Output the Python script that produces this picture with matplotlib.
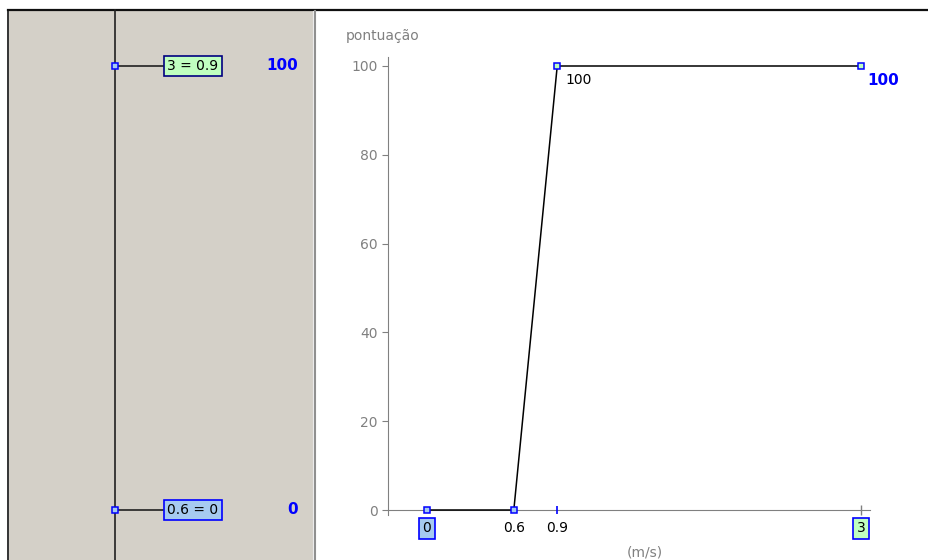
import matplotlib.pyplot as plt
import matplotlib.transforms as mtransforms
from matplotlib.patches import Rectangle

plt.rcParams['font.family'] = ['DejaVu Sans']

# Data
speed = [0, 0.6, 0.9, 3]
score = [0, 0, 100, 100]
point_fill = ['#A6CAF0', '#A6CAF0', '#C0FFC0', '#C0FFC0']
y_ticks = [0, 20, 40, 60, 80, 100]
x_tick_labels = ['0', '0.6', '0.9', '3']
rule_labels = ['0.6 = 0', '3 = 0.9']
rule_scores = [0, 100]

# Colours
PANEL = '#D4D0C8'
AXIS_GRAY = '#808080'
BLUE = '#0000FF'
LIGHT_BLUE = '#A6CAF0'
LIGHT_GREEN = '#C0FFC0'
NAVY = '#000080'

W, H = 929, 560
fig = plt.figure(figsize=(W / 100, H / 100), dpi=100)
fig.patch.set_facecolor('white')

# background axes in pixel units (frame + left panel)
bg = fig.add_axes([0, 0, 1, 1])
bg.set_xlim(0, W)
bg.set_ylim(H, 0)
bg.axis('off')

bg.add_patch(Rectangle((9, 11), 304, H - 11, facecolor=PANEL, edgecolor='none'))
bg.plot([8, W], [10, 10], color='#101010', lw=1.6)
bg.plot([8, 8], [10, H], color='#101010', lw=1.2)
bg.plot([313, 313], [11, H], color='#F0F0F0', lw=0.8)
bg.plot([315.5, 315.5], [11, H], color='#909090', lw=1.5)
bg.plot([115, 115], [10, H], color='#202020', lw=1.2)

# main chart axes
x0, x1 = 388, 870
y_bot, y_top = 515, 57
ax = fig.add_axes([x0 / W, (H - y_bot) / H, (x1 - x0) / W, (y_bot - y_top) / H])
ax.patch.set_alpha(0)
px_per_x = 144.7
px_per_y = 4.44
ax.set_xlim((x0 - 427) / px_per_x, (x1 - 427) / px_per_x)
ax.set_ylim((510 - y_bot) / px_per_y, (510 - y_top) / px_per_y)

for s in ['top', 'right']:
    ax.spines[s].set_visible(False)
ax.spines['left'].set_color(AXIS_GRAY)
ax.spines['bottom'].set_color(AXIS_GRAY)
ax.spines['bottom'].set_position(('data', 0))

ax.set_yticks(y_ticks)
ax.tick_params(axis='y', direction='out', length=4.5, width=0.8, colors=AXIS_GRAY,
               labelsize=10, pad=3)

ax.set_xticks(speed)
ax.set_xticklabels(x_tick_labels)
ax.tick_params(axis='x', length=0, labelsize=10, pad=8, labelcolor='black')
labels = ax.get_xticklabels()
labels[0].set_bbox(dict(boxstyle='square,pad=0.25', facecolor=LIGHT_BLUE, edgecolor=BLUE, lw=1.2))
labels[-1].set_bbox(dict(boxstyle='square,pad=0.25', facecolor=LIGHT_GREEN, edgecolor=BLUE, lw=1.2))

# tick marks at 0.9 (blue) and 3 (gray)
ax.plot(speed[2], 0, marker='|', ms=6, mew=1.2, color=BLUE, zorder=3, clip_on=False)
ax.plot(speed[3], 0, marker='|', ms=7, mew=1.0, color=AXIS_GRAY, zorder=2, clip_on=False)

ax.plot(speed, score, color='black', lw=1.1, zorder=3)
for xv, yv, fc in zip(speed, score, point_fill):
    ax.plot(xv, yv, marker='s', ms=4.5, mfc=fc, mec=BLUE, mew=1.1, zorder=4, clip_on=False)

ax.annotate(str(score[2]), xy=(speed[2], score[2]), xytext=(8, -7), textcoords='offset pixels',
            ha='left', va='top', fontsize=10, color='black')
ax.annotate(str(score[3]), xy=(speed[3], score[3]), xytext=(6, -7), textcoords='offset pixels',
            ha='left', va='top', fontsize=11, fontweight='bold', color=BLUE)

bg.text(346, 36, 'pontuação', ha='left', va='center', fontsize=10, color=AXIS_GRAY)
bg.text(645, 559, '(m/s)', ha='center', va='bottom', fontsize=10, color=AXIS_GRAY)

# left panel rules aligned to chart's score scale
trans = mtransforms.blended_transform_factory(bg.transData, ax.transData)
box_fill = [LIGHT_BLUE, LIGHT_GREEN]
box_edge = [BLUE, NAVY]
for lab, sc, fc, ec in zip(rule_labels, rule_scores, box_fill, box_edge):
    bg.plot([115, 163], [sc, sc], color='#202020', lw=1.2, transform=trans)
    bg.plot([115], [sc], marker='s', ms=4.5, mfc=LIGHT_BLUE, mec=BLUE, mew=1.1,
            transform=trans, zorder=5)
    bg.text(193, sc, lab, ha='center', va='center', fontsize=10, color='black', transform=trans,
            bbox=dict(boxstyle='square,pad=0.25', facecolor=fc, edgecolor=ec, lw=1.2))
    bg.text(298, sc, str(sc), ha='right', va='center', fontsize=11, fontweight='bold',
            color=BLUE, transform=trans)

plt.savefig('out.png', dpi=100, facecolor='white')
plt.close()
